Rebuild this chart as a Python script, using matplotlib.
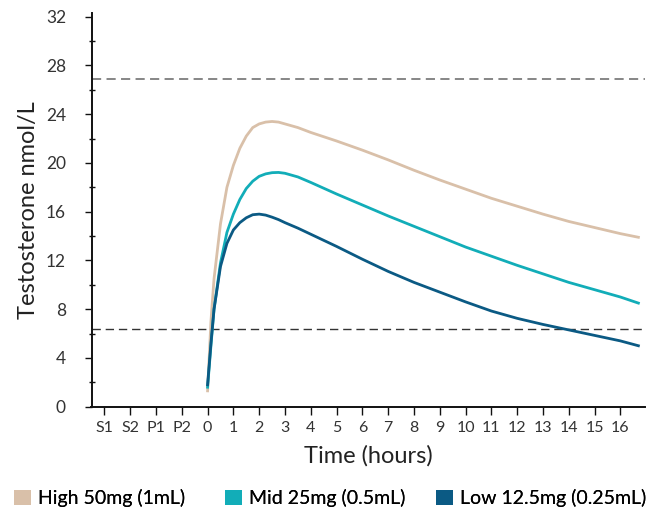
import matplotlib.pyplot as plt
from matplotlib.patches import Patch

plt.rcParams['font.family'] = ['Lato', 'DejaVu Sans']

# x tick labels: 4 baseline/pre categories, then hours 0..16
tick_labels = ['S1', 'S2', 'P1', 'P2'] + [str(h) for h in range(17)]
tick_pos = list(range(-4, 17))

# time points (hours)
hours = [0, 0.13, 0.25, 0.5, 0.75, 1, 1.25, 1.5, 1.75, 2, 2.25, 2.5, 2.75, 3,
         3.5, 4, 5, 6, 7, 8, 9, 10, 11, 12, 13, 14, 15, 16, 16.7]

high = [1.3, 7.0, 10.5, 15.0, 18.0, 19.8, 21.2, 22.2, 22.9, 23.2, 23.35, 23.4, 23.35, 23.2,
        22.9, 22.5, 21.8, 21.05, 20.25, 19.4, 18.6, 17.85, 17.1, 16.45, 15.8, 15.2, 14.7, 14.2, 13.9]
mid = [1.6, 5.0, 8.0, 11.8, 14.3, 15.8, 17.0, 17.9, 18.5, 18.9, 19.1, 19.2, 19.22, 19.15,
       18.85, 18.4, 17.45, 16.55, 15.65, 14.8, 13.95, 13.1, 12.35, 11.6, 10.9, 10.2, 9.6, 9.0, 8.5]
low = [1.8, 5.2, 8.0, 11.5, 13.4, 14.5, 15.1, 15.5, 15.75, 15.8, 15.72, 15.55, 15.35, 15.1,
       14.65, 14.15, 13.15, 12.1, 11.1, 10.2, 9.4, 8.6, 7.85, 7.25, 6.75, 6.3, 5.85, 5.4, 5.0]

upper_ref = 26.9
lower_ref = 6.4

c_high = '#d9c0a9'
c_mid = '#12adb8'
c_low = '#0b5a84'

fig = plt.figure(figsize=(6.46, 5.11), dpi=100)
ax = fig.add_axes([91.5 / 646, 104.3 / 511, 1 - 91.5 / 646 - 0.001, (406.7 - 13) / 511])

ax.axhline(upper_ref, color='#666666', lw=1.1, ls=(0, (6, 3.5)), zorder=1)
ax.axhline(lower_ref, color='#333333', lw=1.0, ls=(0, (6, 3.5)), zorder=1)

ax.plot(hours, high, color=c_high, lw=2.0, zorder=3)
ax.plot(hours, mid, color=c_mid, lw=2.0, zorder=4)
ax.plot(hours, low, color=c_low, lw=2.0, zorder=5)

ax.set_xlim(-4.5, 16.97)
ax.set_ylim(0, 32.3)
ax.set_xticks(tick_pos)
ax.set_xticklabels(tick_labels)
ax.set_yticks(range(0, 33, 4))
ax.set_yticks(range(2, 32, 4), minor=True)

for s in ['top', 'right']:
    ax.spines[s].set_visible(False)
for s in ['left', 'bottom']:
    ax.spines[s].set_color('#111111')
    ax.spines[s].set_linewidth(1.4)

ax.tick_params(axis='x', which='major', direction='out', length=5.4, width=1.0,
               colors='#111111', labelcolor='#333333', labelsize=11.5, pad=5)
ax.tick_params(axis='y', which='major', direction='out', length=5.4, width=1.0,
               colors='#111111', labelcolor='#333333', labelsize=12.5, pad=13)
ax.tick_params(axis='y', which='minor', direction='inout', length=4.5, width=1.0,
               colors='#111111')

ax.set_xlabel('Time (hours)', fontsize=17, color='#222222', labelpad=7)
ax.set_ylabel('Testosterone nmol/L', fontsize=17, color='#222222', labelpad=5)

# one legend per entry so each sits where the reference has it
legend_items = [(c_high, 'High 50mg (1mL)', 14),
                (c_mid, 'Mid 25mg (0.5mL)', 225),
                (c_low, 'Low 12.5mg (0.25mL)', 436)]
for color, label, xpix in legend_items:
    leg = fig.legend(handles=[Patch(facecolor=color, label=label)], loc='center left',
                     bbox_to_anchor=(xpix / 646, 12.7 / 511), frameon=False, fontsize=14,
                     handlelength=0.86, handleheight=0.86, handletextpad=0.36,
                     borderpad=0, borderaxespad=0)
    fig.add_artist(leg)

fig.savefig('out.png', dpi=100)
